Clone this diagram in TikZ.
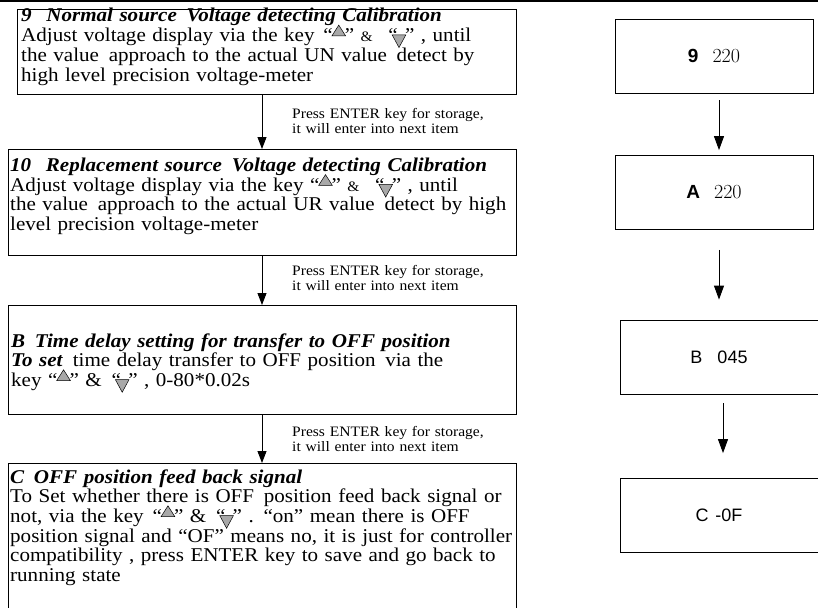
\documentclass[tikz,border=0pt]{standalone}
\usepackage{fontspec}
\setmainfont{Liberation Serif}[FakeStretch=1.08]
\setsansfont{Liberation Sans}
\usetikzlibrary{arrows.meta}
\definecolor{trigray}{RGB}{168,168,168}
\lineskiplimit=-100pt
\newcommand\bodyfont{\fontsize{19.5pt}{19.7pt}\selectfont\lineskiplimit=-100pt\relax}
\newcommand\labfont{\fontsize{14.4pt}{15pt}\selectfont}
\newcommand\lmnum{\fontfamily{lmr}\selectfont}
\newcommand\tup{\tikz[x=1cm,y=1cm,baseline=0pt]\draw[fill=trigray,line width=0.5pt] (0,0.3em) -- (0.7em,0.3em) -- (0.35em,0.85em) -- cycle;}
\newcommand\tdn{\tikz[x=1cm,y=1cm,baseline=0pt]\draw[fill=trigray,line width=0.5pt] (0,0.35em) -- (0.7em,0.35em) -- (0.35em,-0.3em) -- cycle;}
\newcommand\qup{“\kern-0.05em\tup\kern-0.05em”}
\newcommand\qdn{“\kern-0.3em\tdn\kern-0.05em”}
\newcommand\bi[1]{\textbf{\textit{#1}}}
\begin{document}
\begin{tikzpicture}[x=1pt,y=-1pt,
  box/.style={draw,line width=0.9pt,inner sep=0pt,anchor=north west},
  body/.style={anchor=base west,inner sep=0pt,text width=505pt,align=left,font=\bodyfont},
  lab/.style={anchor=base west,inner sep=0pt,text width=225pt,align=left,font=\labfont},
  arr/.style={line width=0.9pt,-{Triangle[width=9pt,length=12pt]}},
  rarr/.style={line width=0.9pt,-{Triangle[width=10pt,length=14pt]}},
  rbox/.style={draw,line width=0.8pt,minimum width=198pt,minimum height=74pt,inner sep=0pt}]
\useasboundingbox (0,0) rectangle (818,607);
\clip (0,0) rectangle (818,607);
\draw[line width=1.6pt] (0,1) -- (818,1);
\coordinate (ax) at (262,0);
% left boxes
\node[box,minimum width=499pt,minimum height=85pt] (b9) at (17,9) {};
\node[box,minimum width=508pt,minimum height=106pt] (b10) at (8,149) {};
\node[box,minimum width=508pt,minimum height=109pt] (bB) at (8,305) {};
\node[box,minimum width=508pt,minimum height=160pt] (bC) at (8,463) {};
% left texts
\node[body] (t9) at (21,22) {\bi{9\hspace{0.75em}Normal source\hspace{0.5em}Voltage detecting Calibration}\\
Adjust voltage display via the key\hspace{0.45em}\qup\ {\labfont\&}\hspace{0.8em}\qdn\ , until\\
the value\hspace{0.5em}approach to the actual UN value\hspace{0.5em}detect by\\
high level precision voltage-meter};
\node[body] (t10) at (10,171.5) {\bi{10\hspace{0.75em}Replacement source\hspace{0.5em}Voltage detecting Calibration}\\
Adjust voltage display via the key \qup\ {\labfont\&}\hspace{0.8em}\qdn\ , until\\
the value\hspace{0.5em}approach to the actual UR value\hspace{0.5em}detect by high\\
level precision voltage-meter};
\node[body] (tB) at (11,347) {\bi{B\hspace{0.5em}Time delay setting for transfer to OFF position}\\
\bi{To set}\hspace{0.5em}time delay transfer to OFF position\hspace{0.5em}via the\\
key \qup\ \&\hspace{0.5em}\qdn\ , 0-80*0.02s};
\node[body] (tC) at (10,483) {\bi{C\hspace{0.5em}OFF position feed back signal}\\
To Set whether there is OFF\hspace{0.5em}position feed back signal or\\
not, via the key\hspace{0.45em}\qup\ \&\hspace{0.5em}\qdn\ . “on” mean there is OFF\\
position signal and “OF” means no, it is just for controller\\
compatibility , press ENTER key to save and go back to\\
running state};
% left arrows
\draw[arr] (b9.south -| ax) -- (b10.north -| ax);
\draw[arr] (b10.south -| ax) -- (bB.north -| ax);
\draw[arr] (bB.south -| ax) -- (bC.north -| ax);
\node[lab] (l1) at (292,118) {Press ENTER key for storage,\\it will enter into next item};
\node[lab] (l2) at (292,275) {Press ENTER key for storage,\\it will enter into next item};
\node[lab] (l3) at (292,436) {Press ENTER key for storage,\\it will enter into next item};
% right column
\node[rbox] (r9) at (714,56) {{\fontsize{19pt}{19pt}\selectfont\sffamily\bfseries 9}\hspace{14pt}{\fontsize{20pt}{20pt}\lmnum 220}};
\node[rbox] (rA) at (714,192.5) {{\fontsize{19pt}{19pt}\selectfont\sffamily\bfseries A}\hspace{14pt}{\fontsize{20pt}{20pt}\lmnum 220}};
\node[rbox] (rB) at (719,357) {\fontsize{18pt}{18pt}\selectfont\sffamily B\hspace{15pt}045};
\node[rbox] (rC) at (719,515.5) {\fontsize{18pt}{18pt}\selectfont\sffamily C\hspace{7pt}-0F};
\draw[rarr,shorten <=7pt,shorten >=5pt] (r9.south -| rB.north) -- (rA.north -| rB.north);
\draw[rarr,shorten <=20pt,shorten >=20pt] (rA.south -| rB.north) -- (rB.north);
\draw[rarr,shorten <=9pt,shorten >=25pt] ([xshift=4pt]rB.south) -- ([xshift=4pt]rC.north);
\end{tikzpicture}
\end{document}
